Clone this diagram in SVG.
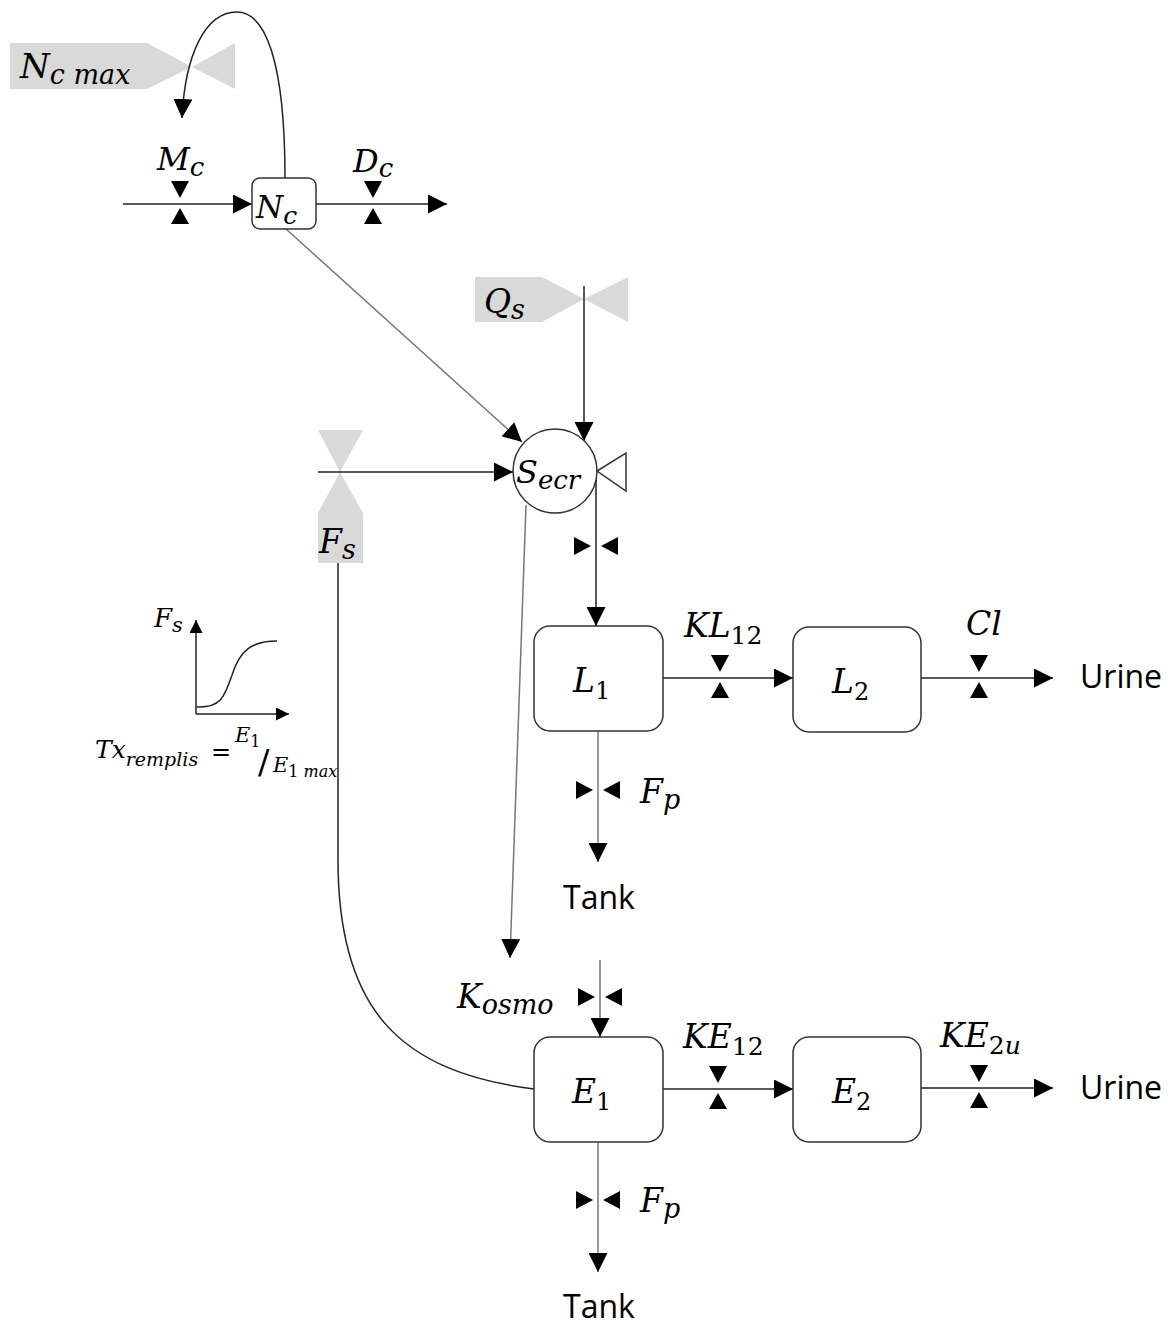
<svg xmlns="http://www.w3.org/2000/svg" width="1175" height="1327" viewBox="0 0 1175 1327">
<style>
.m{font-family:"DejaVu Serif","Liberation Serif",serif;font-style:italic;fill:#000}
.n{font-style:normal}
.s{font-family:"Open Sans","Liberation Sans",sans-serif;font-size:32px;fill:#000}
.ln{fill:none;stroke:#222;stroke-width:1.5}
.gl{fill:none;stroke:#777;stroke-width:1.5}
.box{fill:#fff;stroke:#333;stroke-width:1.5}
.sh{fill:#d9d9d9}
.v{fill:#000}
</style>
<defs>
<marker id="ah" viewBox="0 0 10 10" refX="10" refY="5" markerWidth="19" markerHeight="19" markerUnits="userSpaceOnUse" orient="auto"><path d="M0,0 L10,5 L0,10 z" fill="#000"/></marker>
<marker id="ahs" viewBox="0 0 10 10" refX="10" refY="5" markerWidth="13" markerHeight="13" markerUnits="userSpaceOnUse" orient="auto"><path d="M0,0 L10,5 L0,10 z" fill="#000"/></marker>
<g id="vv" class="v"><path d="M-9,-23 L9,-23 L0,-6 z"/><path d="M-9,20 L9,20 L0,4 z"/></g>
<g id="hv" class="v"><path d="M-22,-9 L-22,9 L-5,0 z"/><path d="M22,-9 L22,9 L5,0 z"/></g>
</defs>

<g id="Ncmax">
<polygon class="sh" points="10,43 147,43 192,67 235,43 235,89 192,67 147,89 10,89"/>
<text class="m" x="20" y="78" font-size="34">N<tspan font-size="27" dy="6">c max</tspan></text>
</g>
<g id="Qs">
<polygon class="sh" points="475,277 542,277 584,299 628,277 628,322 584,299 542,322 475,322"/>
<text class="m" x="484" y="313" font-size="33">Q<tspan font-size="27" dy="6">s</tspan></text>
</g>
<g id="Fs">
<polygon class="sh" points="318,430 363,430 340,472 363,513 363,563 318,563 318,513 340,472"/>
<text class="m" x="319" y="553" font-size="33">F<tspan font-size="27" dy="6">s</tspan></text>
</g>

<g id="connectors">
<path class="ln" d="M123,204 L252,204" marker-end="url(#ah)"/>
<path class="ln" d="M316,204 L447,204" marker-end="url(#ah)"/>
<path class="ln" d="M285,178 C285,60 265,12 237,12 C205,12 185,55 182,118" marker-end="url(#ah)"/>
<path class="gl" d="M286,229 L522,442" marker-end="url(#ah)"/>
<path class="ln" d="M584,286 L584,441" marker-end="url(#ah)"/>
<path class="ln" d="M318,472 L513,472" marker-end="url(#ah)"/>
<path class="ln" d="M596,480 L596,626" marker-end="url(#ah)"/>
<path class="ln" d="M663,678 L793,678" marker-end="url(#ah)"/>
<path class="ln" d="M921,678 L1053,678" marker-end="url(#ah)"/>
<path class="gl" d="M598,731 L598,862" marker-end="url(#ah)"/>
<path class="gl" d="M526,505 L510,958" marker-end="url(#ah)"/>
<path class="gl" d="M600,960 L600,1037" marker-end="url(#ah)"/>
<path class="ln" d="M663,1089 L793,1089" marker-end="url(#ah)"/>
<path class="ln" d="M921,1088 L1053,1088" marker-end="url(#ah)"/>
<path class="gl" d="M598,1142 L598,1272" marker-end="url(#ah)"/>
<path class="ln" d="M338,563 L338,860 C338,1010 400,1072 534,1089"/>
<use href="#vv" x="180" y="204"/>
<use href="#vv" x="373" y="204"/>
<use href="#vv" x="720" y="678"/>
<use href="#vv" x="979" y="678"/>
<use href="#vv" x="718" y="1089"/>
<use href="#vv" x="979" y="1088"/>
<use href="#hv" x="596" y="546"/>
<use href="#hv" x="598" y="790"/>
<use href="#hv" x="600" y="997"/>
<use href="#hv" x="598" y="1200"/>
</g>

<g id="Nc">
<rect class="box" x="252" y="178" width="64" height="51" rx="8"/>
<text class="m" x="256" y="218" font-size="31">N<tspan font-size="25" dy="6">c</tspan></text>
</g>
<g id="Mc"><text class="m" x="157" y="170" font-size="32">M<tspan font-size="26" dy="6">c</tspan></text></g>
<g id="Dc"><text class="m" x="353" y="172" font-size="32">D<tspan font-size="26" dy="5">c</tspan></text></g>

<g id="Secr">
<circle class="box" cx="555" cy="471" r="42"/>
<polygon class="box" points="597,471 626,453 626,491"/>
<text class="m" x="516" y="483" font-size="32">S<tspan font-size="26" dy="6">ecr</tspan></text>
</g>

<g id="L1">
<rect class="box" x="534" y="626" width="129" height="105" rx="16"/>
<text class="m" x="573" y="692" font-size="33">L<tspan class="n" font-size="24" dy="7">1</tspan></text>
</g>
<g id="KL12"><text class="m" x="684" y="637" font-size="33">KL<tspan class="n" font-size="25" dy="7">12</tspan></text></g>
<g id="L2">
<rect class="box" x="793" y="627" width="128" height="105" rx="16"/>
<text class="m" x="832" y="693" font-size="33">L<tspan class="n" font-size="24" dy="7">2</tspan></text>
</g>
<g id="Cl"><text class="m" x="966" y="635" font-size="33">Cl</text></g>
<g id="Urine1"><text class="s" x="1080" y="688">Urine</text></g>
<g id="Fp1"><text class="m" x="640" y="803" font-size="33">F<tspan font-size="27" dy="6">p</tspan></text></g>
<g id="Tank1"><text class="s" x="563" y="909">Tank</text></g>

<g id="Kosmo"><text class="m" x="457" y="1008" font-size="33">K<tspan font-size="27" dy="6">osmo</tspan></text></g>
<g id="E1">
<rect class="box" x="534" y="1037" width="129" height="105" rx="16"/>
<text class="m" x="572" y="1103" font-size="33">E<tspan class="n" font-size="24" dy="7">1</tspan></text>
</g>
<g id="KE12"><text class="m" x="683" y="1048" font-size="33">KE<tspan class="n" font-size="25" dy="7">12</tspan></text></g>
<g id="E2">
<rect class="box" x="793" y="1037" width="128" height="105" rx="16"/>
<text class="m" x="832" y="1103" font-size="33">E<tspan class="n" font-size="24" dy="7">2</tspan></text>
</g>
<g id="KE2u"><text class="m" x="940" y="1047" font-size="33">KE<tspan font-size="25" dy="7"><tspan class="n">2</tspan>u</tspan></text></g>
<g id="Urine2"><text class="s" x="1080" y="1099">Urine</text></g>
<g id="Fp2"><text class="m" x="640" y="1212" font-size="33">F<tspan font-size="27" dy="6">p</tspan></text></g>
<g id="Tank2"><text class="s" x="563" y="1318">Tank</text></g>

<g id="inset">
<path class="ln" d="M196,714 L196,620" marker-end="url(#ahs)"/>
<path class="ln" d="M196,714 L289,714" marker-end="url(#ahs)"/>
<path class="ln" d="M197,707 C222,708 225,695 232,675 C240,650 252,641 277,641"/>
<text class="m" x="154" y="627" font-size="26">F<tspan font-size="21" dy="5">s</tspan></text>
<text class="m" x="95" y="758" font-size="25">Tx<tspan font-size="19" dy="8">remplis</tspan></text>
<text class="m n" x="211" y="760" font-size="24">=</text>
<text class="m" x="235" y="742" font-size="21">E<tspan class="n" font-size="16" dy="5">1</tspan></text>
<text class="m n" x="258" y="774" font-size="34">/</text>
<text class="m" x="273" y="772" font-size="21">E<tspan font-size="16" dy="5"><tspan class="n">1</tspan> max</tspan></text>
</g>
</svg>
